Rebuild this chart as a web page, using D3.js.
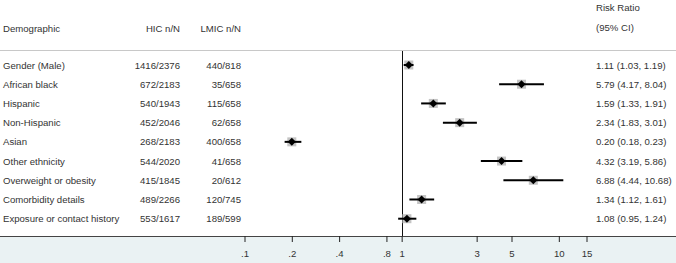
<!DOCTYPE html>
<html>
<head>
<meta charset="utf-8">
<script src="https://cdn.jsdelivr.net/npm/d3@7"></script>
<style>
  body { margin: 0; background: #fff; }
  svg { display: block; font-family: "Liberation Sans", Arial, sans-serif; }
</style>
</head>
<body>
<svg id="chart" width="676" height="263"></svg>
<script>
var labels = ["Gender (Male)", "African black", "Hispanic", "Non-Hispanic", "Asian",
              "Other ethnicity", "Overweight or obesity", "Comorbidity details",
              "Exposure or contact history"];
var hic = ["1416/2376", "672/2183", "540/1943", "452/2046", "268/2183",
           "544/2020", "415/1845", "489/2266", "553/1617"];
var lmic = ["440/818", "35/658", "115/658", "62/658", "400/658",
            "41/658", "20/612", "120/745", "189/599"];
var rr = [1.11, 5.79, 1.59, 2.34, 0.20, 4.32, 6.88, 1.34, 1.08];
var lo = [1.03, 4.17, 1.33, 1.83, 0.18, 3.19, 4.44, 1.12, 0.95];
var hi = [1.19, 8.04, 1.91, 3.01, 0.23, 5.86, 10.68, 1.61, 1.24];
var tickVals = [0.1, 0.2, 0.4, 0.8, 1, 3, 5, 10, 15];
var tickLabels = [".1", ".2", ".4", ".8", "1", "3", "5", "10", "15"];

var W = 676, H = 263;
var axisY = 236;
var FS = "9.6px";
var svg = d3.select("#chart");

var rows = labels.map(function (d, i) {
    return { label: d, hic: hic[i], lmic: lmic[i], rr: rr[i], lo: lo[i], hi: hi[i] };
});

var x = d3.scaleLog().domain([0.1, 15]).range([244.5, 586.5]);
var y = d3.scalePoint().domain(labels).range([65, 218.7]);

// bottom band
svg.append("rect")
    .attr("x", 0).attr("y", axisY)
    .attr("width", W).attr("height", H - axisY)
    .style("fill", "#eaf2f3");

// header
var head = svg.append("g").style("font-size", FS).style("fill", "#333");
head.append("text").attr("x", 3).attr("y", 32).text("Demographic");
head.append("text").attr("x", 180).attr("y", 32).attr("text-anchor", "end").text("HIC n/N");
head.append("text").attr("x", 241).attr("y", 32).attr("text-anchor", "end").text("LMIC n/N");
head.append("text").attr("x", 596).attr("y", 11).text("Risk Ratio");
head.append("text").attr("x", 596).attr("y", 31).text("(95% CI)");

svg.append("line")
    .attr("x1", 0).attr("x2", W)
    .attr("y1", 50.5).attr("y2", 50.5)
    .style("stroke", "#c8c8c8").style("stroke-width", 1);

// null line
svg.append("line")
    .attr("x1", Math.round(x(1)) + 0.5).attr("x2", Math.round(x(1)) + 0.5)
    .attr("y1", 51).attr("y2", axisY)
    .style("stroke", "#111").style("stroke-width", 1);

// row text
var rowG = svg.append("g").style("font-size", FS).style("fill", "#333");
var r = rowG.selectAll("g.row").data(rows).enter().append("g")
    .attr("class", "row")
    .attr("transform", function (d) { return "translate(0," + (y(d.label) + 3.5) + ")"; });
r.append("text").attr("x", 3).text(function (d) { return d.label; });
r.append("text").attr("x", 180).attr("text-anchor", "end").text(function (d) { return d.hic; });
r.append("text").attr("x", 241).attr("text-anchor", "end").text(function (d) { return d.lmic; });
r.append("text").attr("x", 596).text(function (d) {
    return d.rr.toFixed(2) + " (" + d.lo.toFixed(2) + ", " + d.hi.toFixed(2) + ")";
});

// marks
var marks = svg.append("g").selectAll("g").data(rows).enter().append("g");
marks.append("rect")
    .attr("x", function (d) { return x(d.rr) - 4.5; })
    .attr("y", function (d) { return y(d.label) - 4.5; })
    .attr("width", 9).attr("height", 9)
    .style("fill", "#c4c4c4");
marks.append("line")
    .attr("x1", function (d) { return x(d.lo); })
    .attr("x2", function (d) { return x(d.hi); })
    .attr("y1", function (d) { return y(d.label); })
    .attr("y2", function (d) { return y(d.label); })
    .style("stroke", "#000").style("stroke-width", 2);
marks.append("path")
    .attr("d", function (d) {
        var cx = x(d.rr), cy = y(d.label), s = 4;
        return "M" + (cx - s) + "," + cy + "L" + cx + "," + (cy - s) +
               "L" + (cx + s) + "," + cy + "L" + cx + "," + (cy + s) + "Z";
    })
    .style("fill", "#000");

// axis
svg.append("line")
    .attr("x1", 0).attr("x2", W)
    .attr("y1", axisY + 0.5).attr("y2", axisY + 0.5)
    .style("stroke", "#444").style("stroke-width", 1);

var axis = d3.axisBottom(x)
    .tickValues(tickVals)
    .tickSize(6)
    .tickPadding(8)
    .tickFormat(function (d, i) { return tickLabels[i]; });

var ax = svg.append("g")
    .attr("transform", "translate(0," + axisY + ")")
    .call(axis);
ax.select(".domain").remove();
ax.selectAll(".tick line").style("stroke", "#222");
ax.selectAll(".tick text")
    .style("font-family", "'Liberation Sans', Arial, sans-serif")
    .style("font-size", FS).style("fill", "#333");
</script>
</body>
</html>
